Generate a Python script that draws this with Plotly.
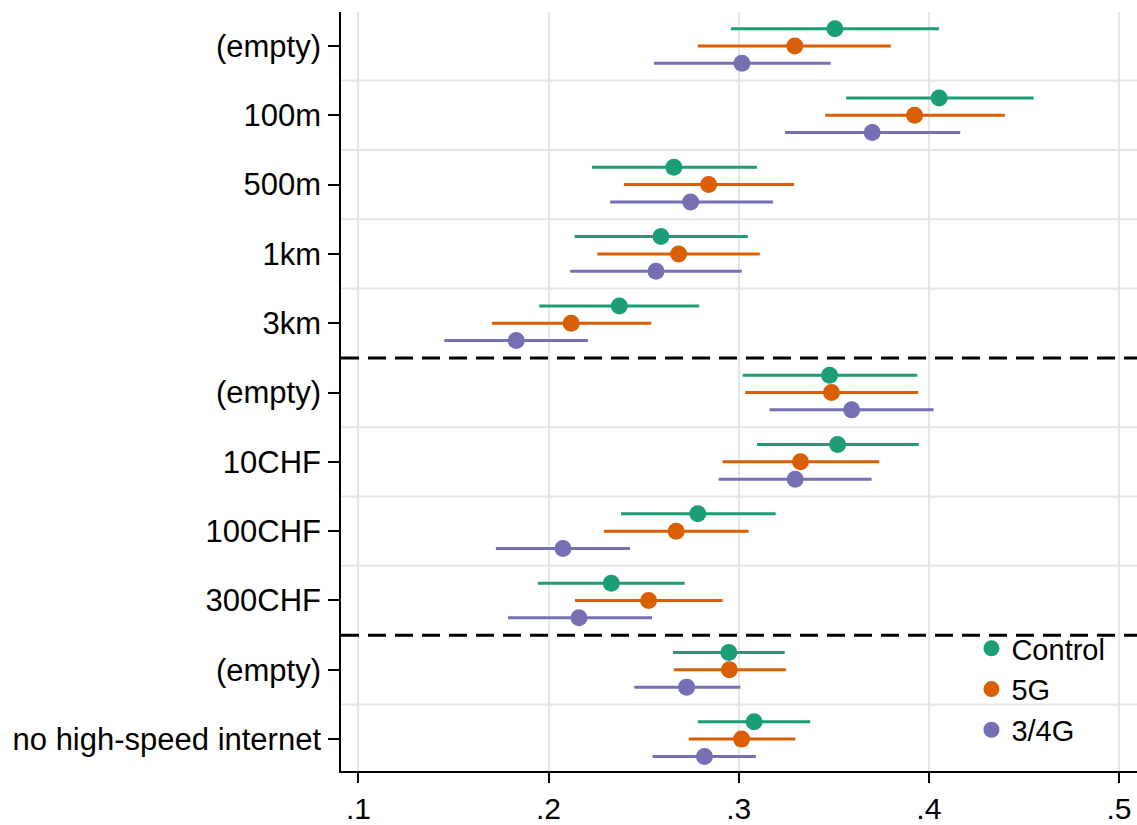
import plotly.graph_objects as go

categories = ["(empty)", "100m", "500m", "1km", "3km",
              "(empty)", "10CHF", "100CHF", "300CHF",
              "(empty)", "no high-speed internet"]

series_names = ["Control", "5G", "3/4G"]
colors = ["#1b9e77", "#d95f02", "#7570b3"]

control_est = [0.3506, 0.4054, 0.2659, 0.2591, 0.2372, 0.3478, 0.3520, 0.2785, 0.2330, 0.2948, 0.3081]
control_lo  = [0.2959, 0.3565, 0.2228, 0.2137, 0.1951, 0.3021, 0.3096, 0.2381, 0.1944, 0.2655, 0.2785]
control_hi  = [0.4053, 0.4551, 0.3096, 0.3048, 0.2792, 0.3939, 0.3947, 0.3194, 0.2716, 0.3242, 0.3376]

g5_est = [0.3295, 0.3925, 0.2842, 0.2684, 0.2119, 0.3488, 0.3325, 0.2671, 0.2526, 0.2951, 0.3015]
g5_lo  = [0.2785, 0.3455, 0.2396, 0.2256, 0.1702, 0.3034, 0.2915, 0.2291, 0.2139, 0.2659, 0.2737]
g5_hi  = [0.3800, 0.4400, 0.3291, 0.3111, 0.2540, 0.3944, 0.3739, 0.3052, 0.2915, 0.3248, 0.3298]

g34_est = [0.3017, 0.3702, 0.2747, 0.2565, 0.1830, 0.3594, 0.3297, 0.2076, 0.2160, 0.2726, 0.2820]
g34_lo  = [0.2554, 0.3244, 0.2324, 0.2114, 0.1452, 0.3162, 0.2894, 0.1723, 0.1787, 0.2451, 0.2547]
g34_hi  = [0.3484, 0.4165, 0.3180, 0.3016, 0.2207, 0.4025, 0.3699, 0.2428, 0.2544, 0.3009, 0.3090]

x_ticks = [0.1, 0.2, 0.3, 0.4, 0.5]
x_ticktext = [".1", ".2", ".3", ".4", ".5"]

offsets = [-0.25, 0.0, 0.25]
group_breaks = [4.5, 8.5]

FONT = "Liberation Sans, Arial, sans-serif"

fig = go.Figure()
series = [(control_est, control_lo, control_hi),
          (g5_est, g5_lo, g5_hi),
          (g34_est, g34_lo, g34_hi)]
for name, col, off, (est, lo, hi) in zip(series_names, colors, offsets, series):
    ys = [i + off for i in range(len(categories))]
    fig.add_trace(go.Scatter(
        x=est, y=ys, mode="markers", name=name,
        marker=dict(color=col, size=17, line=dict(width=0)),
        error_x=dict(type="data", symmetric=False,
                     array=[h - e for h, e in zip(hi, est)],
                     arrayminus=[e - l for e, l in zip(est, lo)],
                     color=col, thickness=3, width=0),
    ))

shapes = []
for k in range(len(categories) - 1):
    yb = k + 0.5
    if yb in group_breaks:
        shapes.append(dict(type="line", xref="paper", x0=0, x1=1, yref="y", y0=yb, y1=yb,
                           line=dict(color="black", width=3, dash="18px,9px"), layer="above"))
    else:
        shapes.append(dict(type="line", xref="paper", x0=0, x1=1, yref="y", y0=yb, y1=yb,
                           line=dict(color="#e6e6e6", width=2), layer="below"))

fig.update_layout(
    width=1137, height=825,
    margin=dict(l=341, r=0, t=12, b=54),
    paper_bgcolor="white", plot_bgcolor="white",
    font=dict(family=FONT, size=29, color="black"),
    showlegend=True,
    legend=dict(x=0.792, y=0.195, xanchor="left", yanchor="top",
                bgcolor="rgba(0,0,0,0)", font=dict(size=29, family=FONT),
                itemsizing="trace"),
    shapes=shapes,
    xaxis=dict(range=[0.09085, 0.50946], tickvals=x_ticks, ticktext=x_ticktext,
               showgrid=True, gridcolor="#e6e6e6", gridwidth=2,
               showline=True, linecolor="black", linewidth=1.5,
               ticks="outside", ticklen=10, tickwidth=1.5, tickcolor="black",
               zeroline=False, tickfont=dict(size=30)),
    yaxis=dict(range=[10.46, -0.49], tickvals=list(range(len(categories))), ticktext=categories,
               showgrid=False, showline=True, linecolor="black", linewidth=1.5,
               ticks="outside", ticklen=11, tickwidth=1.5, tickcolor="black",
               zeroline=False, tickfont=dict(size=31), ticklabelstandoff=1),
)

fig.write_html("out.html")
